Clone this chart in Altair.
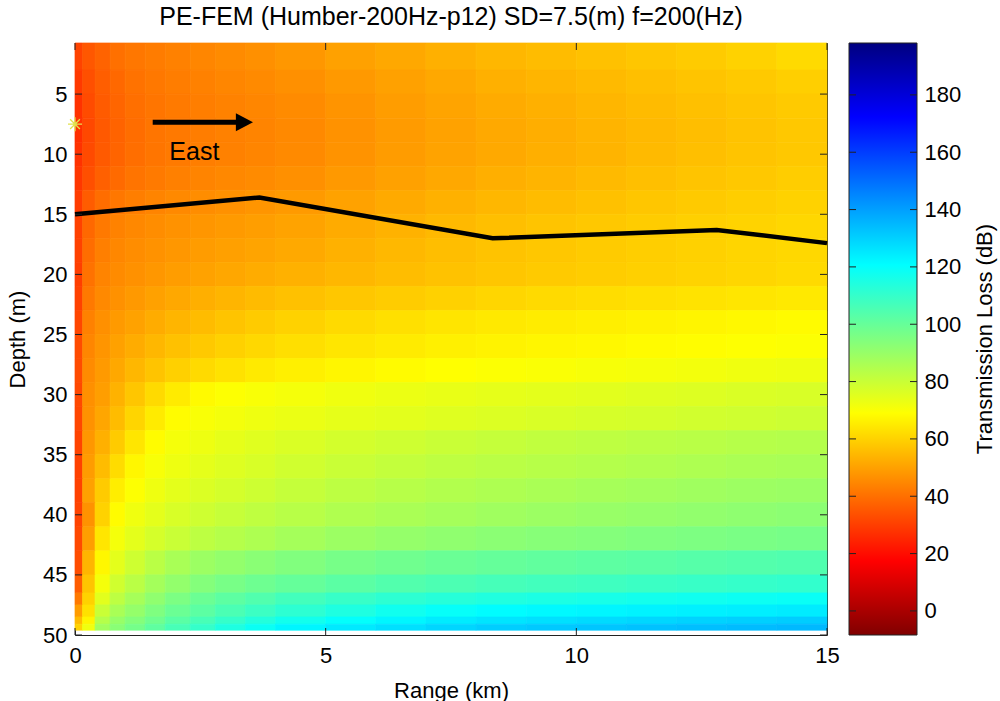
import altair as alt
import pandas as pd

# ---------------------------------------------------------------------------
# Transmission-loss field (dB), one list per depth band, one value per range band
# ---------------------------------------------------------------------------
RANGE_EDGES_KM = [0, 0.15, 0.4, 0.7, 1.0, 1.4, 1.8, 2.3, 2.8, 3.4, 4.0,
                  5, 6, 7, 8, 9, 10, 11, 12, 13, 14, 15]
DEPTH_EDGES_M = [0.75, 3, 5, 7, 9, 11, 13, 15, 17, 19, 21, 23, 25, 27, 29,
                 31, 33, 35, 37, 39, 41, 43, 45, 46.5, 47.5, 48.5, 49.1, 49.6]

TL_DB = [
    [31, 35, 37.5, 40, 41.5, 42.5, 43.5, 44.5, 45.5, 46.5, 48, 50, 51.5, 53, 54.5, 55.5, 56.5, 57.5, 58.5, 60, 61.5],
    [29, 33.5, 36.5, 38.5, 40.5, 41.8, 42.8, 43.6, 44.5, 45.3, 46.5, 48.3, 50, 51.5, 53, 54, 55, 56, 57, 58.2, 59.3],
    [27.5, 32.5, 35.8, 37.8, 39.8, 41.2, 42.2, 43, 43.8, 44.6, 45.6, 47.4, 49.2, 50.7, 52, 53.1, 54.2, 55.3, 56.3, 57.3, 58.3],
    [27, 32, 35.5, 37.5, 39.5, 41, 42, 42.8, 43.5, 44.2, 45.2, 47, 48.8, 50.3, 51.6, 52.7, 53.8, 54.9, 55.9, 56.9, 57.9],
    [27.5, 32.3, 35.6, 37.6, 39.6, 41.1, 42.1, 42.9, 43.6, 44.3, 45.3, 47.1, 48.9, 50.4, 51.7, 52.8, 53.9, 55, 56, 57, 58],
    [28.5, 33.5, 36.8, 38.8, 40.8, 42.2, 43.3, 44.1, 44.9, 45.5, 46.5, 48.3, 50, 51.5, 52.8, 53.9, 55, 56, 57, 58, 59],
    [29.5, 36, 39.5, 41.5, 43, 44.2, 45.2, 46, 46.8, 47.5, 48.5, 50.2, 51.8, 53.2, 54.5, 55.5, 56.5, 57.4, 58.3, 59.2, 60],
    [30.5, 38.5, 42, 43.8, 45, 46, 47, 47.8, 48.6, 49.4, 50.4, 52, 53.5, 54.8, 56, 57, 57.9, 58.7, 59.5, 60.2, 61],
    [30.5, 39.5, 43.2, 44.8, 46, 47, 48, 48.9, 49.8, 50.6, 51.6, 53.2, 54.6, 55.8, 56.9, 57.8, 58.5, 59.2, 59.8, 60.5, 61.2],
    [30, 40.5, 44.2, 45.6, 46.8, 48, 49.2, 50.3, 51.2, 52.2, 53.2, 54.5, 55.6, 56.6, 57.5, 58.3, 59, 59.6, 60.2, 60.8, 61.5],
    [30.5, 42, 45.2, 46.8, 48.3, 50, 51.5, 52.8, 54, 55.2, 56.5, 57.8, 58.8, 59.8, 60.7, 61.5, 62.2, 62.8, 63.4, 64, 64.6],
    [31.5, 43.5, 46.5, 48.5, 50.3, 52.3, 54, 55.5, 57, 58.5, 60, 61.5, 62.7, 63.7, 64.5, 65.2, 65.8, 66.4, 67, 67.6, 68.2],
    [32.5, 44.5, 47.5, 50, 52.3, 54.5, 56.5, 58.2, 59.8, 61.2, 62.6, 64, 65, 65.9, 66.6, 67.2, 67.7, 68.2, 68.7, 69.2, 69.7],
    [32.5, 45.5, 48.5, 51.5, 54.5, 57, 59.5, 61.5, 63.2, 64.7, 66, 67.3, 68.2, 69, 69.6, 70.1, 70.6, 71, 71.5, 72, 72.5],
    [32, 46.5, 49.5, 53.5, 57.5, 61.5, 65, 68, 69.5, 70.3, 71, 72, 72.8, 73.5, 74, 74.5, 75, 75.5, 76, 76.5, 77],
    [31.5, 47, 51, 55.5, 60.5, 65, 68.5, 70.3, 71.3, 72.2, 73, 74, 74.8, 75.5, 76.2, 76.8, 77.3, 77.8, 78.3, 78.8, 79.3],
    [31, 48, 53, 58.5, 64, 68.5, 71, 72.5, 74, 75.3, 76.5, 78, 79, 80, 80.8, 81.5, 82.2, 82.8, 83.3, 83.8, 84.3],
    [30.5, 49, 55.5, 62, 67.5, 70.5, 72.5, 74.2, 75.7, 77, 78.5, 80, 81.2, 82.2, 83, 83.7, 84.3, 84.9, 85.5, 86, 86.5],
    [30.5, 50, 58.5, 65.5, 69.5, 72.2, 74.5, 76.3, 77.8, 79.2, 80.8, 82.3, 83.6, 84.6, 85.5, 86.3, 87, 87.6, 88.2, 88.8, 89.3],
    [31, 47, 60, 68.5, 72, 74.5, 77, 79, 80.5, 82, 83.5, 85, 86.2, 87.2, 88.2, 89, 89.8, 90.5, 91.2, 91.8, 92.4],
    [32, 49.5, 64, 71, 74.5, 77.5, 80, 82.3, 84, 85.5, 87.3, 89, 90.4, 91.5, 92.5, 93.3, 94, 94.7, 95.3, 95.9, 96.5],
    [33, 54, 67.5, 74.5, 79, 83, 86.5, 89, 91, 92.8, 94.5, 96.5, 98, 99.2, 100.2, 101, 101.8, 102.5, 103.2, 103.8, 104.4],
    [36, 57, 71, 78.5, 83, 87.5, 91, 94, 96.3, 98.3, 100.3, 102.3, 104, 105.3, 106.5, 107.3, 108, 108.7, 109.3, 110, 110.6],
    [42, 60, 75, 82.5, 87, 91.5, 95.5, 99, 101.8, 104.3, 107, 109.5, 111.5, 113, 114.2, 115.2, 116, 116.8, 117.5, 118.2, 118.8],
    [49, 63, 80, 86.5, 90.5, 95, 99, 102, 105.5, 108.5, 111.5, 114.5, 117.5, 119.5, 121, 121.8, 122.4, 123, 123.5, 124, 124.5],
    [55, 67, 84, 90, 94, 98, 102.5, 106, 110, 113.5, 117, 120, 122.5, 124.5, 126, 127, 128, 128.8, 129.5, 130.2, 130.8],
    [60, 72, 88, 93, 97, 101.5, 106, 110, 114.5, 118.5, 122.5, 125, 127, 129, 130.5, 131.5, 132.3, 133, 133.6, 134.2, 134.8],
]

# Layer interface (bathymetry of the upper layer)
INTERFACE_RANGE_KM = [0.0, 3.68, 8.33, 12.8, 15.0]
INTERFACE_DEPTH_M = [15.0, 13.6, 17.0, 16.3, 17.4]

SOURCE_RANGE_KM = 0.0
SOURCE_DEPTH_M = 7.5

ARROW_START_KM = 1.55
ARROW_TIP_KM = 3.55
ARROW_DEPTH_M = 7.35
EAST_RANGE_KM = 2.38
EAST_DEPTH_M = 9.85

RANGE_TICKS = [0, 5, 10, 15]
DEPTH_TICKS = [5, 10, 15, 20, 25, 30, 35, 40, 45, 50]
TL_TICKS = [0, 20, 40, 60, 80, 100, 120, 140, 160, 180]
TL_LIMITS = [-8.4, 198.1]

TITLE = "PE-FEM (Humber-200Hz-p12) SD=7.5(m) f=200(Hz)"
CBAR_TITLE = "Transmission Loss (dB)"

# ---------------------------------------------------------------------------
W, H = 752, 592
FONT = "Liberation Sans"
TICK_LEN = 7
CB_X0, CB_X1 = 774, 842          # colour bar, pixels from the plot's left edge

assert len(TL_DB) == len(DEPTH_EDGES_M) - 1
cells = []
for i, row in enumerate(TL_DB):
    assert len(row) == len(RANGE_EDGES_KM) - 1
    for j, tl in enumerate(row):
        cells.append({
            "r0": RANGE_EDGES_KM[j], "r1": RANGE_EDGES_KM[j + 1],
            "z0": DEPTH_EDGES_M[i], "z1": DEPTH_EDGES_M[i + 1],
            "tl": tl,
        })
cells = pd.DataFrame(cells)

# reversed "jet" colour map spread over the colour limits
lo, hi = TL_LIMITS
jet_fracs = (0, 0.125, 0.375, 0.625, 0.875, 1.0)
jet_colors = ["#800000", "#ff0000", "#ffff00", "#00ffff", "#0000ff", "#000080"]
jet_stops = [lo + f * (hi - lo) for f in jet_fracs]
color_scale = alt.Scale(domain=jet_stops, range=jet_colors, interpolate="rgb", clamp=True)

x_scale = alt.Scale(domain=[0, 15], nice=False, zero=False)
y_scale = alt.Scale(domain=[0.75, 50], reverse=True, nice=False, zero=False)

# identical axis definitions in every layer so that they merge into one
x_axis = alt.Axis(values=RANGE_TICKS, labelPadding=10, labelFlush=False,
                  titleX=W / 2, titleY=62, titleBaseline="alphabetic",
                  titleAnchor="middle")
y_axis = alt.Axis(values=DEPTH_TICKS, labelPadding=8, labelFlush=False,
                  titleX=-51, titleY=H / 2, titleBaseline="alphabetic",
                  titleAnchor="middle")


def X(field, **kw):
    return alt.X(field, scale=x_scale, axis=x_axis, title="Range (km)", **kw)


def Y(field, **kw):
    return alt.Y(field, scale=y_scale, axis=y_axis, title="Depth (m)", **kw)


heat = alt.Chart(cells).mark_rect(strokeWidth=0.7).encode(
    x=X("r0:Q"), x2="r1:Q",
    y=Y("z0:Q"), y2="z1:Q",
    color=alt.Color("tl:Q", scale=color_scale, legend=None),
    stroke=alt.Stroke("tl:Q", scale=color_scale, legend=None),
)

iface = pd.DataFrame({"r": INTERFACE_RANGE_KM, "z": INTERFACE_DEPTH_M})
line = alt.Chart(iface).mark_line(color="black", strokeWidth=4.5).encode(
    x=X("r:Q"), y=Y("z:Q"),
)

arrow_df = pd.DataFrame({"r0": [ARROW_START_KM], "r1": [ARROW_TIP_KM - 0.25],
                         "tip": [ARROW_TIP_KM], "z": [ARROW_DEPTH_M]})
arrow_shaft = alt.Chart(arrow_df).mark_rule(color="black", strokeWidth=5).encode(
    x=X("r0:Q"), x2="r1:Q", y=Y("z:Q"),
)
arrow_head = alt.Chart(arrow_df).mark_point(
    shape="M-1.9,-1L0,0L-1.9,1Z", filled=True, color="black", opacity=1, size=324
).encode(x=X("tip:Q"), y=Y("z:Q"))

east_df = pd.DataFrame({"r": [EAST_RANGE_KM], "z": [EAST_DEPTH_M], "t": ["East"]})
east = alt.Chart(east_df).mark_text(
    font=FONT, fontSize=25, color="black", align="center", baseline="middle"
).encode(x=X("r:Q"), y=Y("z:Q"), text="t:N")

src_df = pd.DataFrame({"r": [SOURCE_RANGE_KM], "z": [SOURCE_DEPTH_M]})
source = alt.Chart(src_df).mark_point(
    shape="M-1,0L1,0M0,-1L0,1M-0.7,-0.7L0.7,0.7M-0.7,0.7L0.7,-0.7",
    filled=False, color="#e2e24c", strokeWidth=1.3, size=196, opacity=1,
).encode(x=X("r:Q"), y=Y("z:Q"))

# inward tick marks on all four sides of the box
rt = pd.DataFrame({"v": RANGE_TICKS})
dt = pd.DataFrame({"v": DEPTH_TICKS})
tick_style = dict(color="#222222", strokeWidth=1)
ticks_bottom = alt.Chart(rt).mark_rule(**tick_style).encode(
    x=X("v:Q"), y=alt.value(H), y2=alt.value(H - TICK_LEN))
ticks_top = alt.Chart(rt).mark_rule(**tick_style).encode(
    x=X("v:Q"), y=alt.value(0), y2=alt.value(TICK_LEN))
ticks_left = alt.Chart(dt).mark_rule(**tick_style).encode(
    y=Y("v:Q"), x=alt.value(0), x2=alt.value(TICK_LEN))
ticks_right = alt.Chart(dt).mark_rule(**tick_style).encode(
    y=Y("v:Q"), x=alt.value(W), x2=alt.value(W - TICK_LEN))

title = alt.Chart(pd.DataFrame({"t": [TITLE]})).mark_text(
    font=FONT, fontSize=25, color="black", align="center", baseline="alphabetic"
).encode(x=alt.value(W / 2), y=alt.value(-18), text="t:N")

field = alt.layer(heat, line, arrow_shaft, arrow_head, east, source,
                  ticks_bottom, ticks_top, ticks_left, ticks_right, title)

# colour bar: the colour map as a gradient, with its own vertical scale
cb = pd.DataFrame({"v": TL_TICKS})
cb_scale = alt.Scale(domain=TL_LIMITS, nice=False, zero=False)
cb_axis = alt.Axis(orient="right", offset=CB_X1 - W, values=TL_TICKS, labelPadding=7,
                   labelFlush=False, title=None)
jet_gradient = alt.LinearGradient(
    gradient="linear", x1=0, x2=0, y1=1, y2=0,
    stops=[alt.GradientStop(offset=f, color=c) for f, c in zip(jet_fracs, jet_colors)],
)
cb_bar = alt.Chart(pd.DataFrame({"t": [CBAR_TITLE]})).mark_rect(
    fill=jet_gradient, stroke="#222222", strokeWidth=1
).encode(x=alt.value(CB_X0), x2=alt.value(CB_X1), y=alt.value(0), y2=alt.value(H))
cb_left = alt.Chart(cb).mark_rule(**tick_style).encode(
    y=alt.Y("v:Q", scale=cb_scale, axis=cb_axis),
    x=alt.value(CB_X0), x2=alt.value(CB_X0 + TICK_LEN))
cb_right = alt.Chart(cb).mark_rule(**tick_style).encode(
    y=alt.Y("v:Q", scale=cb_scale, axis=cb_axis),
    x=alt.value(CB_X1), x2=alt.value(CB_X1 - TICK_LEN))
cb_title = alt.Chart(pd.DataFrame({"t": [CBAR_TITLE]})).mark_text(
    font=FONT, fontSize=22, color="black", angle=270, align="center", baseline="middle"
).encode(x=alt.value(910), y=alt.value(H / 2), text="t:N")
colorbar = alt.layer(cb_bar, cb_left, cb_right, cb_title)

chart = alt.layer(field, colorbar).resolve_scale(y="independent").properties(
    width=W, height=H,
    background="white",
    autosize=alt.AutoSizeParams(type="none"),
    padding={"left": 75, "top": 43, "right": 173, "bottom": 66},
).configure_view(
    stroke="#222222", strokeWidth=1
).configure_axis(
    labelFont=FONT, labelFontSize=22, labelColor="black",
    titleFont=FONT, titleFontSize=22, titleFontWeight="normal", titleColor="black",
    ticks=False, domain=False, grid=False,
)

chart.save("out.html", embed_options={"renderer": "svg", "actions": False})
